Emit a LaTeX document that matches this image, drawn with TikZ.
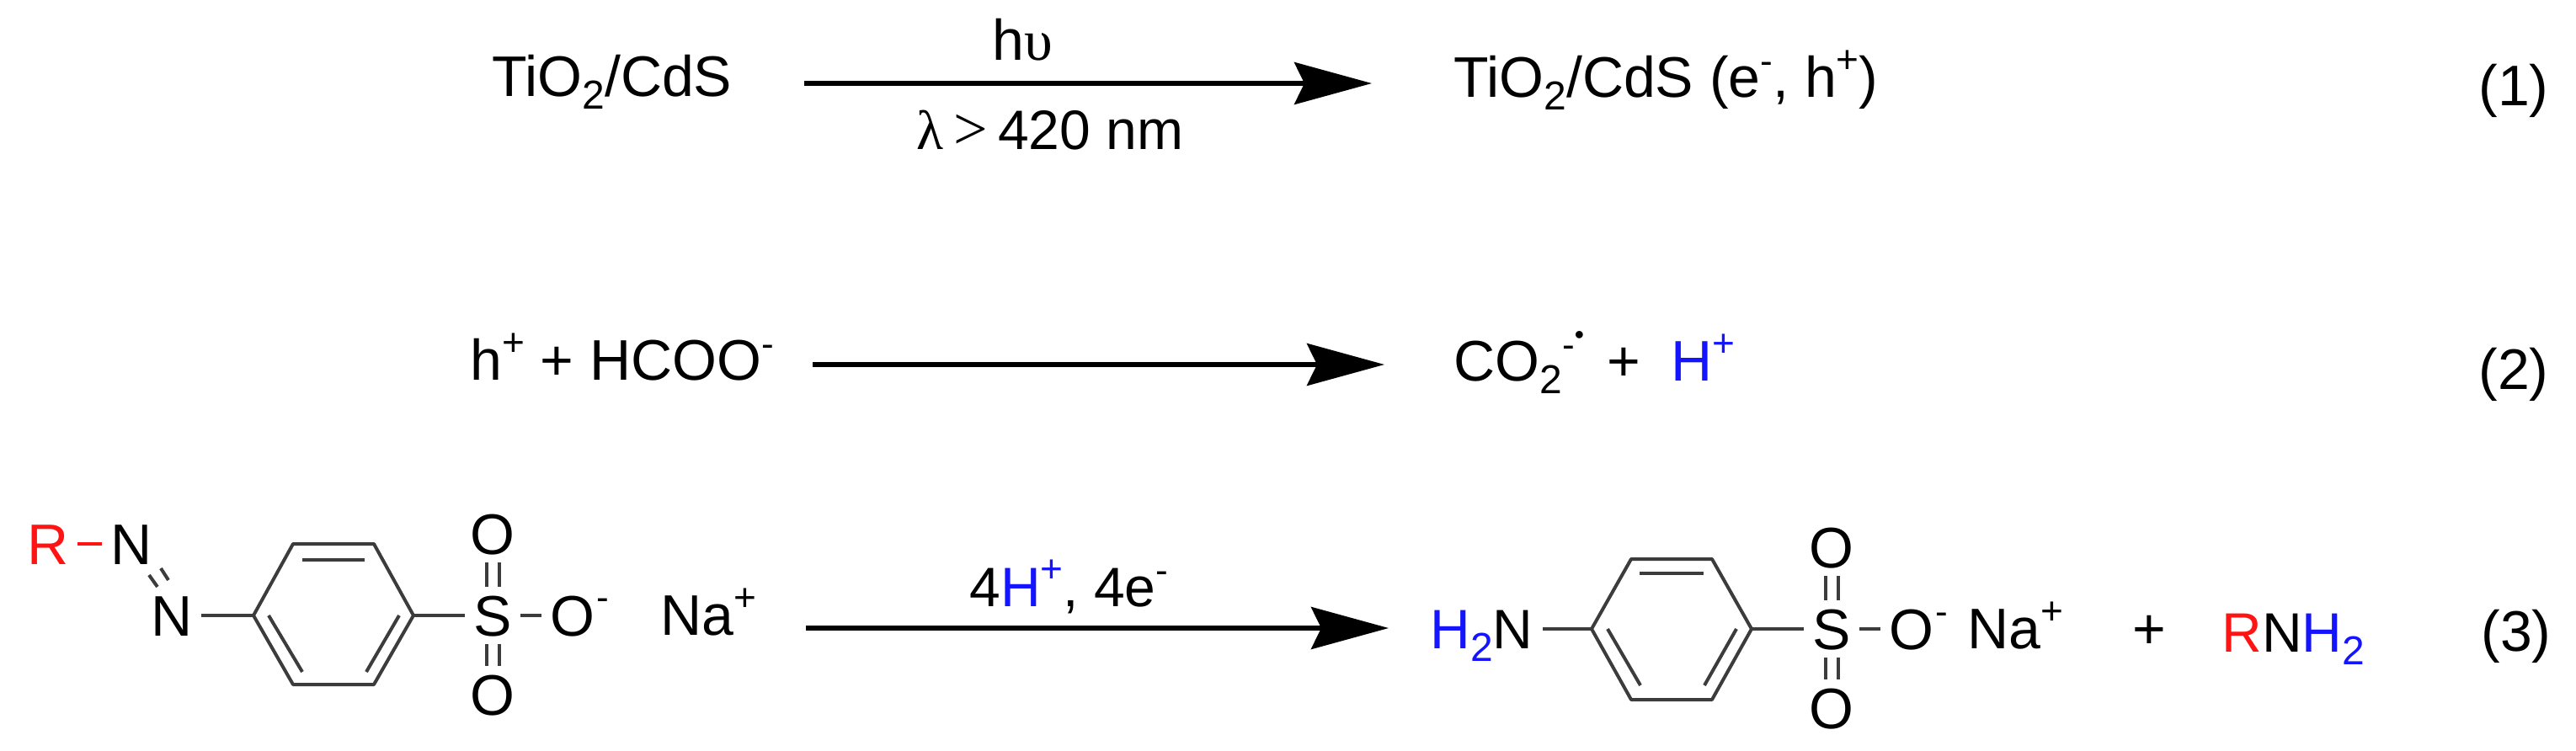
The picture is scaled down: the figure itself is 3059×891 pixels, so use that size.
\documentclass[tikz,border=0pt]{standalone}
\usepackage{fontspec}
\setmainfont{Liberation Sans}
\newfontfamily\gk{Liberation Serif}
\usetikzlibrary{arrows.meta}
\definecolor{bondgray}{RGB}{60,60,60}
\definecolor{hblue}{RGB}{20,20,255}
\definecolor{rred}{RGB}{255,20,20}
\newcommand{\sbs}[1]{\raisebox{-7.5pt}{\fontsize{24}{24}\selectfont #1}}
\newcommand{\sps}[1]{\raisebox{14.5pt}{\fontsize{23}{23}\selectfont #1}}
\newcommand{\mns}{\raisebox{14pt}{\fontsize{22}{22}\selectfont -}}
\tikzset{
  txt/.style={inner sep=0pt, anchor=base west, font=\fontsize{34}{36}\selectfont, text=black},
  txtn/.style={txt, font=\fontsize{33}{36}\selectfont},
  atom/.style={inner sep=5pt, anchor=center, text height=24pt, text depth=0pt, font=\fontsize{34}{36}\selectfont, text=black},
  bond/.style={draw=bondgray, line width=2pt},
  rxn/.style={draw=black, line width=2.7pt, -{Stealth[length=46pt,width=25pt,inset=6pt]}}
}
\begin{document}
\begin{tikzpicture}[x=.5pt,y=-.5pt]
\useasboundingbox (0,0) rectangle (3059,891);
% reaction 1
\node[txt] (r1) at (584,114) {TiO\sbs{2}/CdS};
\node[txt] (p1) at (1726,115) {TiO\sbs{2}/CdS (e\mns, h\sps{+})};
\node[txt] (n1) at (2943,125) {(1)};
\coordinate (a1s) at (955,99);
\coordinate (a1e) at (1629,99);
\draw[rxn] (a1s) -- (a1e);
\node[txt] (hv) at (1178,71) {h{\gk υ}};
\node[txtn] (lam) at (1088,177) {{\gk λ}\hspace{6pt}{\gk\fontsize{36}{36}\selectfont >}\hspace{6pt}420 nm};
% reaction 2
\node[txt] (r2) at (558,451) {h\sps{+} + HCOO\mns};
\node[txt] (p2) at (1726,452) {CO\sbs{2}\mns\raisebox{22pt}{\fontsize{16}{16}\selectfont •}\hspace{14pt}+\hspace{18pt}\textcolor{hblue}{H\sps{+}}};
\node[txt] (n2) at (2943,462) {(2)};
\coordinate (a2s) at (965,433);
\coordinate (a2e) at (1644,433);
\draw[rxn] (a2s) -- (a2e);
% reaction 3, reactant
\node[atom,text=rred] (R) at (57,646) {R};
\node[atom] (N1) at (156,646) {N};
\node[atom] (N2) at (204,731) {N};
\draw[draw=rred,line width=2pt] (R) -- (N1);
\coordinate (dA1) at (177,683); \coordinate (dA2) at (187,697);
\coordinate (dB1) at (191,675); \coordinate (dB2) at (200,689);
\draw[bond] (dA1) -- (dA2);
\draw[bond] (dB1) -- (dB2);
\coordinate (a) at (301,731); \coordinate (b) at (348,646); \coordinate (c) at (444,646);
\coordinate (d) at (491,731); \coordinate (e) at (444,813); \coordinate (f) at (348,813);
\draw[bond,line join=round] (a) -- (b) -- (c) -- (d) -- (e) -- (f) -- cycle;
\coordinate (i1) at (359,665); \coordinate (i2) at (433,665);
\coordinate (i3) at (319,731); \coordinate (i4) at (359,798);
\coordinate (i5) at (474,731); \coordinate (i6) at (435,798);
\draw[bond] (i1) -- (i2);
\draw[bond] (i3) -- (i4);
\draw[bond] (i5) -- (i6);
\node[atom] (S) at (585,731) {S};
\node[atom] (Ot) at (585,634) {O};
\node[atom] (Ob) at (585,825) {O};
\node[atom] (Om) at (680,731) {O};
\draw[bond] (N2) -- (a);
\draw[bond] (d) -- (S);
\draw[bond] (S) -- (Om);
\draw[bond] ([xshift=-3.75pt]S.north) -- ([xshift=-3.75pt]Ot.south);
\draw[bond] ([xshift=3.75pt]S.north) -- ([xshift=3.75pt]Ot.south);
\draw[bond] ([xshift=-3.75pt]S.south) -- ([xshift=-3.75pt]Ob.north);
\draw[bond] ([xshift=3.75pt]S.south) -- ([xshift=3.75pt]Ob.north);
\node[txt] (chgA) at (708,752) {\mns};
\node[txt] (naA) at (784,754) {Na\sps{+}};
% reaction 3, arrow
\coordinate (a3s) at (957,746);
\coordinate (a3e) at (1649,746);
\draw[rxn] (a3s) -- (a3e);
\node[txtn] (cond) at (1151,720) {4\textcolor{hblue}{H\sps{+}}, 4e\mns};
% reaction 3, product
\node[txtn] (h2n) at (1698,770) {\textcolor{hblue}{H\sbs{2}}N};
\coordinate (pa) at (1890,747); \coordinate (pb) at (1937,664); \coordinate (pc) at (2033,664);
\coordinate (pd) at (2080,747); \coordinate (pe) at (2033,831); \coordinate (pf) at (1937,831);
\draw[bond,line join=round] (pa) -- (pb) -- (pc) -- (pd) -- (pe) -- (pf) -- cycle;
\coordinate (j1) at (1947,681); \coordinate (j2) at (2023,681);
\coordinate (j3) at (1909,747); \coordinate (j4) at (1948,814);
\coordinate (j5) at (2062,747); \coordinate (j6) at (2024,814);
\draw[bond] (j1) -- (j2);
\draw[bond] (j3) -- (j4);
\draw[bond] (j5) -- (j6);
\node[atom] (pS) at (2175,747) {S};
\node[atom] (pOt) at (2175,650) {O};
\node[atom] (pOb) at (2175,841) {O};
\node[atom] (pOm) at (2270,747) {O};
\draw[bond] (h2n.east |- pa) ++(11,0) -- (pa);
\draw[bond] (pd) -- (pS);
\draw[bond] (pS) -- (pOm);
\draw[bond] ([xshift=-3.75pt]pS.north) -- ([xshift=-3.75pt]pOt.south);
\draw[bond] ([xshift=3.75pt]pS.north) -- ([xshift=3.75pt]pOt.south);
\draw[bond] ([xshift=-3.75pt]pS.south) -- ([xshift=-3.75pt]pOb.north);
\draw[bond] ([xshift=3.75pt]pS.south) -- ([xshift=3.75pt]pOb.north);
\node[txt] (chgB) at (2298,769) {\mns};
\node[txt] (naB) at (2336,770) {Na\sps{+}};
\node[txt] (plus) at (2532,770) {+};
\node[txtn] (rnh) at (2638,774) {\textcolor{rred}{R}N\textcolor{hblue}{H\sbs{2}}};
\node[txt] (n3) at (2946,773) {(3)};
\end{tikzpicture}
\end{document}
